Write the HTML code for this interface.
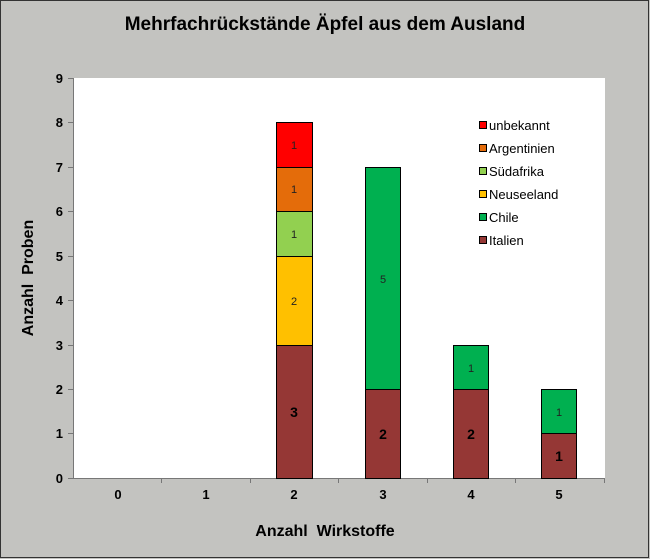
<!DOCTYPE html>
<html><head><style>body{margin:0}svg{display:block}</style></head><body>
<svg width="650" height="559" xmlns="http://www.w3.org/2000/svg" font-family="Liberation Sans, Arial, sans-serif">
<rect x="0" y="0" width="650" height="559" fill="#c3c3c0"/>
<rect x="0.5" y="0.5" width="648" height="557" fill="none" stroke="#333" stroke-width="1"/>
<text x="325" y="30" text-anchor="middle" font-size="19" font-weight="bold" fill="#000">Mehrfachrückstände Äpfel aus dem Ausland</text>
<rect x="73" y="78" width="532" height="400" fill="#fff"/>
<g stroke="#777" stroke-width="1">
<line x1="73.5" y1="78" x2="73.5" y2="479"/>
<line x1="68" y1="478.5" x2="605" y2="478.5"/>
<line x1="68" y1="78.5" x2="73" y2="78.5"/><line x1="68" y1="122.5" x2="73" y2="122.5"/><line x1="68" y1="167.5" x2="73" y2="167.5"/><line x1="68" y1="211.5" x2="73" y2="211.5"/><line x1="68" y1="256.5" x2="73" y2="256.5"/><line x1="68" y1="300.5" x2="73" y2="300.5"/><line x1="68" y1="345.5" x2="73" y2="345.5"/><line x1="68" y1="389.5" x2="73" y2="389.5"/><line x1="68" y1="433.5" x2="73" y2="433.5"/>
<line x1="161.5" y1="478" x2="161.5" y2="483"/><line x1="250.5" y1="478" x2="250.5" y2="483"/><line x1="338.5" y1="478" x2="338.5" y2="483"/><line x1="427.5" y1="478" x2="427.5" y2="483"/><line x1="515.5" y1="478" x2="515.5" y2="483"/><line x1="604.5" y1="478" x2="604.5" y2="483"/>
</g>
<g font-size="13" font-weight="bold" text-anchor="end" fill="#000">
<text x="63" y="483">0</text><text x="63" y="438">1</text><text x="63" y="394">2</text><text x="63" y="350">3</text><text x="63" y="305">4</text><text x="63" y="261">5</text><text x="63" y="216">6</text><text x="63" y="172">7</text><text x="63" y="127">8</text><text x="63" y="83">9</text>
</g>
<g font-size="13" font-weight="bold" text-anchor="middle" fill="#000">
<text x="118" y="499">0</text><text x="206" y="499">1</text><text x="294" y="499">2</text><text x="383" y="499">3</text><text x="471" y="499">4</text><text x="559" y="499">5</text>
</g>
<text x="325" y="536" text-anchor="middle" font-size="16" font-weight="bold">Anzahl&#160; Wirkstoffe</text>
<text transform="translate(33,278) rotate(-90)" text-anchor="middle" font-size="16" font-weight="bold">Anzahl&#160; Proben</text>
<g stroke="#000" stroke-width="1">
<rect x="276.5" y="345.5" width="36" height="133" fill="#953735"/>
<rect x="276.5" y="256.5" width="36" height="89" fill="#ffc000"/>
<rect x="276.5" y="211.5" width="36" height="45" fill="#92d050"/>
<rect x="276.5" y="167.5" width="36" height="44" fill="#e46c0a"/>
<rect x="276.5" y="122.5" width="36" height="45" fill="#ff0000"/>
<rect x="365.5" y="389.5" width="35" height="89" fill="#953735"/>
<rect x="365.5" y="167.5" width="35" height="222" fill="#00b050"/>
<rect x="453.5" y="389.5" width="35" height="89" fill="#953735"/>
<rect x="453.5" y="345.5" width="35" height="44" fill="#00b050"/>
<rect x="541.5" y="433.5" width="35" height="45" fill="#953735"/>
<rect x="541.5" y="389.5" width="35" height="44" fill="#00b050"/>
</g>
<g font-size="11" text-anchor="middle" fill="#222">
<text x="294" y="149">1</text><text x="294" y="193">1</text><text x="294" y="238">1</text><text x="294" y="305">2</text>
<text x="383" y="283">5</text><text x="471" y="372">1</text><text x="559" y="416">1</text>
</g>
<g font-size="14" font-weight="bold" text-anchor="middle" fill="#000">
<text x="294" y="417">3</text><text x="383" y="439">2</text><text x="471" y="439">2</text><text x="559" y="461">1</text>
</g>
<g stroke="#000" stroke-width="1">
<rect x="479.5" y="121.5" width="7" height="7" fill="#ff0000"/>
<rect x="479.5" y="144.5" width="7" height="7" fill="#e46c0a"/>
<rect x="479.5" y="167.5" width="7" height="7" fill="#92d050"/>
<rect x="479.5" y="190.5" width="7" height="7" fill="#ffc000"/>
<rect x="479.5" y="213.5" width="7" height="7" fill="#00b050"/>
<rect x="479.5" y="236.5" width="7" height="7" fill="#953735"/>
</g>
<g font-size="13" fill="#000">
<text x="489" y="130">unbekannt</text><text x="489" y="153">Argentinien</text><text x="489" y="176">Südafrika</text><text x="489" y="199">Neuseeland</text><text x="489" y="222">Chile</text><text x="489" y="245">Italien</text>
</g>
</svg>
</body></html>
